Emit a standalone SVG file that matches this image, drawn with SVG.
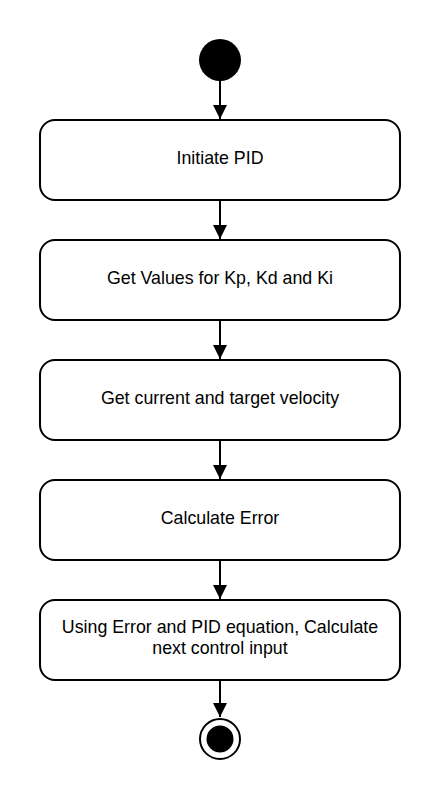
<svg xmlns="http://www.w3.org/2000/svg" width="440" height="800" viewBox="0 0 440 800">
<style>
.box{fill:#fff;stroke:#000;stroke-width:2}
.lbl{font-family:"Liberation Sans",Arial,sans-serif;font-size:17.8px;fill:#000;text-anchor:middle}
.edge{stroke:#000;stroke-width:2;fill:none}
</style>
<defs>
<marker id="arr" markerUnits="userSpaceOnUse" markerWidth="14" markerHeight="20" refX="12" refY="6" orient="auto" viewBox="0 0 12 12">
<path d="M0,0 L12,6 L0,12 Z" fill="#000"/>
</marker>
</defs>
<rect width="440" height="800" fill="#fff"/>
<g id="connectors">
<line class="edge" x1="220" y1="81" x2="220" y2="119" marker-end="url(#arr)"/>
<line class="edge" x1="220" y1="200" x2="220" y2="239" marker-end="url(#arr)"/>
<line class="edge" x1="220" y1="320" x2="220" y2="359" marker-end="url(#arr)"/>
<line class="edge" x1="220" y1="440" x2="220" y2="479" marker-end="url(#arr)"/>
<line class="edge" x1="220" y1="560" x2="220" y2="599" marker-end="url(#arr)"/>
<line class="edge" x1="220" y1="680" x2="220" y2="717" marker-end="url(#arr)"/>
</g>
<g id="start"><circle cx="220" cy="60" r="21" fill="#000"/></g>
<g id="n1"><rect class="box" x="40" y="120" width="360" height="80" rx="15"/><text class="lbl" x="220" y="164">Initiate PID</text></g>
<g id="n2"><rect class="box" x="40" y="240" width="360" height="80" rx="15"/><text class="lbl" x="220" y="284">Get Values for Kp, Kd and Ki</text></g>
<g id="n3"><rect class="box" x="40" y="360" width="360" height="80" rx="15"/><text class="lbl" x="220" y="404">Get current and target velocity</text></g>
<g id="n4"><rect class="box" x="40" y="480" width="360" height="80" rx="15"/><text class="lbl" x="220" y="524">Calculate Error</text></g>
<g id="n5"><rect class="box" x="40" y="600" width="360" height="80" rx="15"/><text class="lbl" x="220" y="633">Using Error and PID equation, Calculate</text><text class="lbl" x="220" y="654">next control input</text></g>
<g id="end"><circle cx="220" cy="739" r="20" fill="#fff" stroke="#000" stroke-width="2"/><circle cx="220" cy="739" r="13.5" fill="#000"/></g>
</svg>
